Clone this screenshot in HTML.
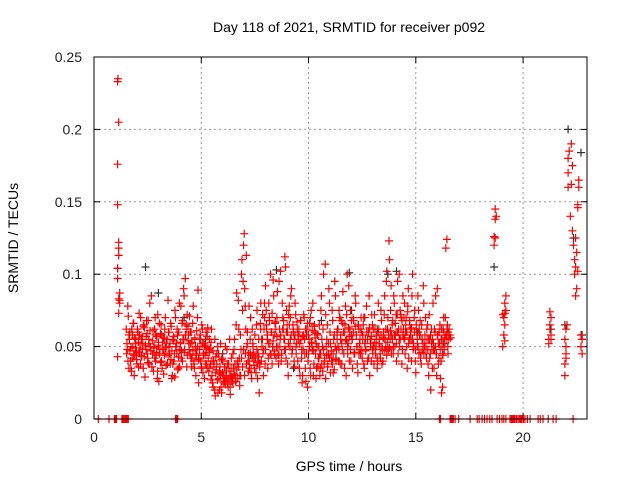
<!DOCTYPE html>
<html><head><meta charset="utf-8"><style>
body{margin:0;background:#fff}
svg{display:block;font-family:"Liberation Sans",sans-serif}
</style></head><body>
<svg id="chart" width="640" height="480" viewBox="0 0 640 480">
<rect width="640" height="480" fill="#fff"/>
<text x="349" y="32" font-size="14" text-anchor="middle">Day 118 of 2021, SRMTID for receiver p092</text>
<text x="349" y="471" font-size="14" text-anchor="middle">GPS time / hours</text>
<text x="18" y="238" font-size="14" text-anchor="middle" transform="rotate(-90 18 238)">SRMTID / TECUs</text>
<g id="grid"></g>
<g id="ticks"></g>
<g id="pts"></g>
<rect x="94" y="57" width="493" height="362" fill="none" stroke="#000" stroke-width="1"/>
</svg>
<script>
// values in milli-TECU (thousandths)
const xTicks=[0,5,10,15,20];
const yTicks=[0,0.05,0.1,0.15,0.2,0.25];
const yTickLabels=["0","0.05","0.1","0.15","0.2","0.25"];
const seriesAStart=1.5;
const seriesA=[62,48,71,55,40,33,58,66,45,52,38,60,73,49,44,57,35,63,51,68,
42,55,80,47,36,61,50,70,44,28,53,66,39,58,48,31,62,45,55,82,
50,38,64,30,57,45,70,52,34,60,48,78,66,55,85,97,62,44,58,71,
52,36,66,40,55,30,48,89,42,58,35,62,45,28,50,38,63,33,46,27,
30,22,38,16,34,27,45,20,31,18,40,25,36,29,48,22,33,17,42,28,
35,55,26,87,40,62,30,48,110,95,128,78,113,60,45,35,70,28,52,40,
58,32,75,45,18,66,40,55,30,70,48,62,35,80,52,44,73,96,58,67,
50,88,38,62,102,45,70,55,112,42,65,30,78,55,90,48,60,36,72,52,
40,62,30,55,25,48,70,35,58,22,45,66,30,52,80,38,60,28,50,42,
65,35,85,50,100,42,72,55,38,90,60,45,75,32,58,85,48,62,40,70,
55,38,88,45,65,30,100,52,40,75,58,35,68,45,80,50,32,62,48,70,
42,65,35,55,78,40,60,30,52,72,45,38,62,50,35,80,55,42,68,48,
60,85,50,102,70,123,55,92,65,45,80,58,40,95,62,50,72,38,85,55,
45,70,35,90,55,62,40,100,50,75,32,60,85,45,68,38,55,92,50,70,
42,65,30,55,20,48,80,35,60,45,90,38,52,28,62,45,70,56,118,124,60];
const seriesBStart=1.525;
const seriesB=[45,78,35,60,50,42,66,30,55,47,62,36,58,70,43,52,65,29,48,59,
68,38,50,85,45,33,62,40,57,72,26,48,65,35,56,44,70,52,38,60,
45,66,28,55,40,75,50,62,35,80,53,42,68,90,48,58,36,64,52,45,
60,42,78,35,50,45,70,25,55,40,65,32,52,44,60,35,48,55,38,62,
25,40,20,32,45,18,28,36,22,42,30,26,50,33,24,38,55,30,26,45,
48,30,65,38,82,42,58,100,75,120,90,62,50,40,78,55,32,62,45,35,
42,65,28,55,38,80,50,45,62,38,75,55,42,68,100,60,50,85,45,62,
70,45,95,55,40,80,62,48,105,60,38,72,50,85,45,65,40,58,45,62,
55,35,68,42,30,58,45,26,62,40,55,35,75,48,30,65,45,35,58,50,
45,75,55,62,38,107,50,65,45,80,52,40,68,55,95,42,60,50,75,38,
68,48,60,35,78,55,45,92,62,40,55,70,45,85,58,38,65,52,45,60,
55,38,70,48,60,42,85,55,40,65,50,72,45,58,40,62,50,75,38,56,
72,55,95,62,48,110,75,58,68,85,50,72,60,45,100,55,70,48,62,80,
60,50,78,42,65,55,85,48,70,40,62,50,75,58,42,65,48,80,55,45,
55,38,72,45,62,35,52,48,85,30,58,42,65,40,55,62,48,70,58,65];
const seriesCStart=1.54;
const seriesC=[52,40,58,47,35,62,50,44,56,49,41,60,53,46,38,55,48,64,43,51,
57,45,39,52,61,47,36,54,49,42,58,46,33,51,45,59,40,53,48,56,
49,37,55,44,60,52,41,47,38,54,29,50,45,58,43,36,52,47,40,55,
46,58,65,72,54,48,60,42,53,47,38,56,44,61,50,41,48,55,36,52,
44,51,38,46,57,42,35,49,53,40,47,36,55,43,38,50,45,33,52,41,
32,28,36,24,30,38,27,33,22,35,29,25,31,38,26,34,28,36,23,30,
42,36,48,30,45,38,52,33,40,46,35,42,50,37,44,32,48,39,43,36,
62,55,72,48,80,92,65,58,52,70,45,60,38,54,47,66,42,57,50,44,
50,58,45,62,68,55,48,75,60,52,65,70,58,48,62,55,80,50,67,58,
60,52,68,48,57,72,55,62,45,66,58,50,70,53,61,47,64,56,52,59,
36,42,30,45,38,33,48,40,28,44,36,52,42,32,47,38,45,34,50,41,
55,62,48,70,58,52,66,45,60,54,72,50,63,57,48,68,55,60,46,64,
58,50,65,45,55,62,48,58,70,52,47,60,55,42,63,50,57,48,62,53,
48,55,42,60,52,45,58,50,40,56,47,62,44,53,58,49,61,45,55,50,
58,66,52,72,60,55,75,62,68,58,70,56,65,60,74,52,68,58,63,55,
52,60,48,65,55,50,62,58,46,55,52,45,58,50,62,48,55,42,58,52,
55,48,62,50,45,58,52,60,48,55,50,44,60,52,58,62,50,55,58,56];
const extraT=[1.1,1.15,1.2,1.15,1.2,1.1,1.1,1.15,1.15,1.15,1.1,1.1,1.15,1.1,1.12,1.2,
18.65,18.7,18.7,18.75,18.7,18.65,
19.05,19.1,19.15,19.1,19.15,19.2,19.15,19.2,19.05,19.15,
21.2,21.25,21.3,21.25,21.3,21.2,21.25,21.3,
21.95,21.95,22.0,21.95,22.0,22.0,22.1,22.1,22.15,22.1,22.2,22.25,22.25,22.3,22.35,22.3,22.05,22.0,
22.4,22.45,22.4,22.45,22.55,22.6,22.6,22.55,22.5,22.45,22.7,22.75,22.75,22.7,22.5,22.55,
16.45,16.5,16.55,16.2,16.25];
const extraV=[43,73,80,83,87,97,104,113,118,122,148,176,205,233,235,82,
120,125,138,140,145,126,
50,58,65,70,73,75,80,85,72,54,
55,62,70,65,55,52,74,58,
30,38,45,55,62,50,170,180,185,160,140,162,190,175,120,130,65,42,
110,125,100,105,146,165,160,148,90,85,50,45,55,58,115,102,
55,45,62,18,22];
const blackT=[1.1,2.4,8.5,11.9,13.7,18.65,22.1,22.7,22.75,14.1,7.3,12.0,4.2,9.3,15.1,3.0,22.35,21.95,21.3,6.0,5.2,10.6,13.2,16.3];
const blackV=[104,105,103,101,100,105,200,184,58,102,44,75,70,35,60,87,125,65,62,45,55,68,62,52];
const zeroT=[0.2,0.7,0.95,1.0,1.05,1.3,1.35,1.4,1.45,1.5,1.55,1.6,3.8,3.85,3.9,
16.1,16.15,16.6,16.65,16.7,16.75,16.83,17.0,17.53,17.86,17.95,18.09,18.2,18.32,18.45,18.55,18.79,18.9,19.02,19.1,19.2,
19.39,19.45,19.5,19.55,19.6,19.63,19.7,19.72,19.8,19.86,19.9,19.95,20.02,20.09,20.2,20.33,20.7,20.8,20.93,21.17,21.4,21.54,22.33];

const X0=94,X1=587,Y0=419,Y1=57,XMAX=22.98,YMAX=0.25;
const sx=t=>X0+(X1-X0)*t/XMAX;
const sy=v=>Y0-(Y0-Y1)*v/YMAX;
const NS="http://www.w3.org/2000/svg";
function mk(tag,attrs,parent){const e=document.createElementNS(NS,tag);for(const k in attrs)e.setAttribute(k,attrs[k]);parent.appendChild(e);return e;}
const grid=document.getElementById('grid'),ticks=document.getElementById('ticks'),pts=document.getElementById('pts');
xTicks.forEach(t=>{const x=sx(t);
 if(t>0){const g=mk('line',{x1:x,x2:x,y1:Y1,y2:Y0,stroke:'#999','stroke-dasharray':'2,3'},grid);
 
 }
 mk('line',{x1:x,x2:x,y1:Y0,y2:Y0-6,stroke:'#000'},ticks);
 mk('line',{x1:x,x2:x,y1:Y1,y2:Y1+6,stroke:'#000'},ticks);
 const l=mk('text',{x:x,y:Y0+23,'font-size':14,'text-anchor':'middle',fill:'#222'},ticks);l.textContent=t;
 
 });
yTicks.forEach((v,i)=>{const y=sy(v);
 if(v>0&&v<YMAX){const g=mk('line',{x1:X0,x2:X1,y1:y,y2:y,stroke:'#999','stroke-dasharray':'2,3'},grid);
 
 }
 mk('line',{x1:X0,x2:X0+6,y1:y,y2:y,stroke:'#000'},ticks);
 mk('line',{x1:X1,x2:X1-6,y1:y,y2:y,stroke:'#000'},ticks);
 const l=mk('text',{x:X0-12,y:y+5,'font-size':14,'text-anchor':'end',fill:'#222'},ticks);l.textContent=yTickLabels[i];
 
 });
let d={red:'',black:''};
function plus(t,mv,c){const x=sx(t),y=sy(mv/1000);d[c]+=`M${(x-4).toFixed(1)} ${y.toFixed(1)}h8M${x.toFixed(1)} ${(y-4).toFixed(1)}v8`;}
blackT.forEach((t,i)=>plus(t,blackV[i],'black'));
seriesA.forEach((v,i)=>plus(seriesAStart+0.05*i,v,'red'));
seriesB.forEach((v,i)=>plus(seriesBStart+0.05*i,v,'red'));
seriesC.forEach((v,i)=>plus(seriesCStart+0.0445*i,v,'red'));
extraT.forEach((t,i)=>plus(t,extraV[i],'red'));
zeroT.forEach(t=>plus(t,0,'red'));
const pb=mk('path',{d:d.black,stroke:'#333',fill:'none','stroke-width':1.2},pts);


const pr=mk('path',{d:d.red,stroke:'#ff0000',fill:'none','stroke-width':1.2},pts);


</script>
</body></html>
